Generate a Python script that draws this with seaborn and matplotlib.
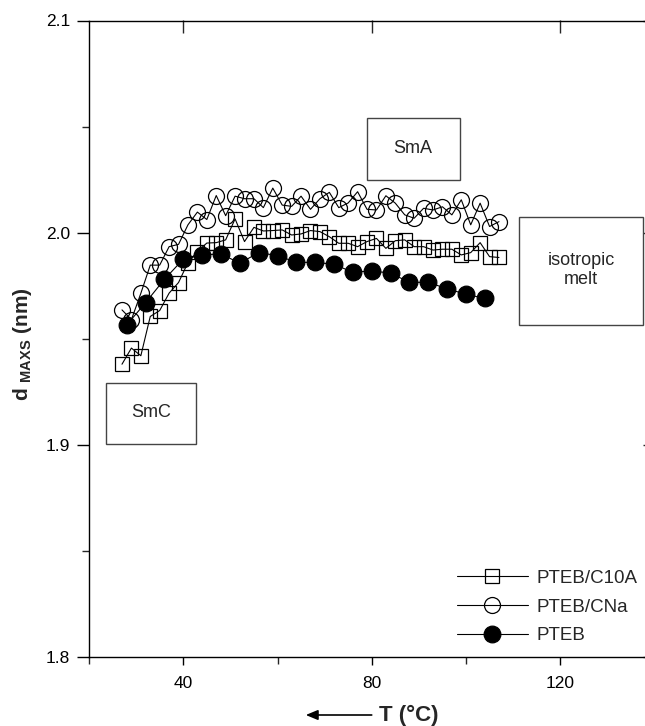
import numpy as np
import pandas as pd
import matplotlib
matplotlib.use("Agg")
import matplotlib.pyplot as plt
import seaborn as sns
from matplotlib.ticker import MultipleLocator, FormatStrFormatter, NullFormatter
from matplotlib.patches import Rectangle, FancyArrowPatch

# ---------------- data ----------------
T_c10a = list(range(27, 108, 2))
d_c10a = [1.938, 1.9456, 1.942, 1.9605, 1.9633, 1.9715, 1.9765, 1.9859, 1.9911, 1.9951,
          1.9953, 1.9966, 2.0065, 1.9958, 2.0025, 2.0008, 2.0010, 2.0013, 1.9989, 1.9994,
          2.0010, 2.0005, 1.9981, 1.9950, 1.9950, 1.9934, 1.9958, 1.9973, 1.9926, 1.9962,
          1.9966, 1.9934, 1.9934, 1.9918, 1.9922, 1.9922, 1.9895, 1.9906, 1.9953, 1.9887,
          1.9883]

T_cna = list(range(27, 108, 2))
d_cna = [1.9636, 1.9590, 1.9714, 1.9847, 1.9847, 1.9934, 1.9945, 2.0037, 2.0097, 2.0062,
         2.0175, 2.0080, 2.0172, 2.0160, 2.0160, 2.0118, 2.0210, 2.0130, 2.0124, 2.0172,
         2.0110, 2.0160, 2.0190, 2.0118, 2.0140, 2.0193, 2.0110, 2.0107, 2.0174, 2.0139,
         2.0084, 2.0068, 2.0115, 2.0107, 2.0122, 2.0084, 2.0155, 2.0037, 2.0139, 2.0029,
         2.0052]

T_pteb = list(range(28, 105, 4))
d_pteb = [1.9565, 1.967, 1.978, 1.9875, 1.9895, 1.990, 1.9856, 1.9906, 1.9892, 1.986,
          1.986, 1.9851, 1.9813, 1.982, 1.9809, 1.9766, 1.9766, 1.9735, 1.971, 1.969]

labels = ["PTEB/C10A", "PTEB/CNa", "PTEB"]
x_ticks = [40, 80, 120]
y_ticks = [1.8, 1.9, 2.0, 2.1]

# ---------------- style ----------------
sns.set_style("ticks")
plt.rcParams['font.family'] = ['Liberation Sans', 'DejaVu Sans']
plt.rcParams['mathtext.fontset'] = 'custom'
plt.rcParams['mathtext.rm'] = 'Liberation Sans'
plt.rcParams['mathtext.bf'] = 'Liberation Sans:bold'
plt.rcParams['axes.linewidth'] = 1.0

W, H = 645, 726
fig = plt.figure(figsize=(W / 100, H / 100), dpi=100)
ax = fig.add_axes([89 / W, (H - 657) / H, (654.5 - 89) / W, (657 - 20.5) / H])

df1 = pd.DataFrame({"T": T_c10a, "d": d_c10a})
df2 = pd.DataFrame({"T": T_cna, "d": d_cna})
df3 = pd.DataFrame({"T": T_pteb, "d": d_pteb})

sns.lineplot(data=df1, x="T", y="d", ax=ax, color="black", lw=0.8, marker="s",
             markersize=10, markerfacecolor="none", markeredgecolor="black",
             markeredgewidth=0.9, sort=False, estimator=None, label=labels[0])
sns.lineplot(data=df2, x="T", y="d", ax=ax, color="black", lw=0.8, marker="o",
             markersize=11.5, markerfacecolor="none", markeredgecolor="black",
             markeredgewidth=0.9, sort=False, estimator=None, label=labels[1])
sns.lineplot(data=df3, x="T", y="d", ax=ax, color="black", lw=0.8, marker="o",
             markersize=12, markerfacecolor="black", markeredgecolor="black",
             markeredgewidth=0.9, sort=False, estimator=None, label=labels[2])

ax.set_xlim(20, 140)
ax.set_ylim(1.8, 2.1)
ax.set_xticks(x_ticks)
ax.xaxis.set_minor_locator(MultipleLocator(20))
ax.set_yticks(y_ticks)
ax.yaxis.set_minor_locator(MultipleLocator(0.05))
ax.yaxis.set_major_formatter(FormatStrFormatter('%.1f'))
ax.set_xlabel("")
ax.set_ylabel("")
for s in ax.spines.values():
    s.set_color("black")
    s.set_linewidth(1.0)

ax.tick_params(axis='y', which='major', direction='out', length=8.5, width=1.0,
               labelsize=12.5, pad=5, colors='black')
ax.tick_params(axis='y', which='minor', direction='out', length=5, width=1.0)
ax.tick_params(axis='x', which='major', direction='out', length=6, width=1.0,
               labelsize=12.5, pad=8, colors='black')
ax.tick_params(axis='x', which='minor', direction='out', length=5, width=1.0)

secx = ax.secondary_xaxis('top')
secx.set_xticks(x_ticks)
secx.xaxis.set_major_formatter(NullFormatter())
secx.tick_params(direction='in', length=9, width=1.0)
for s in secx.spines.values():
    s.set_visible(False)
secy = ax.secondary_yaxis('right')
secy.set_yticks(y_ticks)
secy.yaxis.set_major_formatter(NullFormatter())
secy.tick_params(direction='in', length=9, width=1.0)
for s in secy.spines.values():
    s.set_visible(False)

# ---------------- phase boxes (figure pixels) ----------------
def box(x0, y0, x1, y1, text, tx, ty):
    r = Rectangle((x0 / W, 1 - y1 / H), (x1 - x0) / W, (y1 - y0) / H,
                  transform=fig.transFigure, fill=True, facecolor='white',
                  edgecolor='#444444', lw=1.0, zorder=5)
    fig.add_artist(r)
    fig.text(tx / W, 1 - ty / H, text, ha='center', va='center', fontsize=13,
             linespacing=1.2, zorder=6)

box(366.8, 118.3, 459.9, 180, "SmA", 412.8, 148.3)
box(519, 217, 643, 325, "isotropic\nmelt", 581, 270)
box(106, 383, 196, 444, "SmC", 151, 412.7)

# ---------------- legend ----------------
leg = ax.legend(loc='center left', bbox_to_anchor=(456.7 / W, 1 - 607 / H),
                bbox_transform=fig.transFigure, frameon=False, fontsize=13.5,
                handlelength=3.8, handletextpad=0.45, labelspacing=0.62,
                borderaxespad=0, borderpad=0)

# ---------------- axis labels ----------------
fig.text(23 / W, 1 - 344 / H, r'd $_{\mathbf{MAXS}}$ (nm)', rotation=90,
         ha='center', va='center', fontsize=15, fontweight='bold')
fig.text(409 / W, 1 - 715 / H, "T (°C)", ha='center', va='center',
         fontsize=16, fontweight='bold')
fig.add_artist(FancyArrowPatch(
    (374.5 / W, 1 - 715 / H), (303 / W, 1 - 715 / H), transform=fig.transFigure,
    arrowstyle='-|>,head_length=0.6,head_width=0.25', mutation_scale=12,
    color='black', lw=1.2))

fig.savefig("out.png", dpi=100)
